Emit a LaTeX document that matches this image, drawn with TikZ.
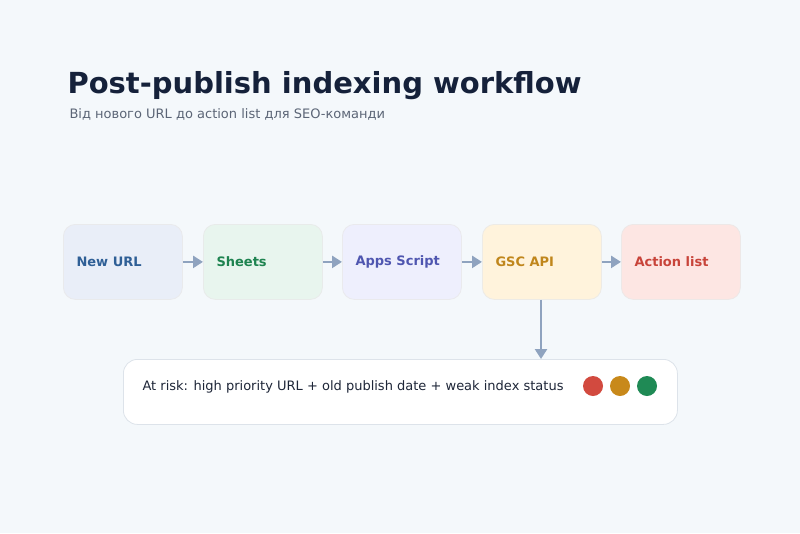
\documentclass[tikz,border=0pt]{standalone}
\usepackage{fontspec}
\setmainfont{DejaVu Sans}
\usetikzlibrary{arrows.meta}
\definecolor{bg}{HTML}{F4F8FB}
\definecolor{arr}{HTML}{8FA3BF}
\begin{document}
\begin{tikzpicture}[x=1pt,y=-1pt,
  step/.style={draw=#1!60!gray!35, rounded corners=12pt, line width=0.8pt, minimum width=119pt, minimum height=75pt, anchor=north west},
  lbl/.style={font=\bfseries\fontsize{13}{15}\selectfont, anchor=west},
  conn/.style={draw=arr, line width=2.5pt, -{Triangle[length=10pt,width=12pt]}}]
\fill[bg] (0,0) rectangle (800,533);
\useasboundingbox (0,0) rectangle (800,533);
\node[anchor=base west, text=black!20!blue!30!black, font=\bfseries\fontsize{29}{34}\selectfont, text={rgb,255:red,21;green,33;blue,58}] (title) at (64,93) {Post-publish indexing workflow};
\node[anchor=base west, font=\fontsize{13}{15}\selectfont, text={rgb,255:red,91;green,101;blue,118}] (sub) at (66,118) {Від нового URL до action list для SEO-команди};
\definecolor{f1}{HTML}{E9EEF8}\definecolor{t1}{HTML}{2F5F96}
\definecolor{f2}{HTML}{E8F5EE}\definecolor{t2}{HTML}{1E8350}
\definecolor{f3}{HTML}{EEEFFD}\definecolor{t3}{HTML}{4F56B0}
\definecolor{f4}{HTML}{FFF3DC}\definecolor{t4}{HTML}{C0861C}
\definecolor{f5}{HTML}{FDE6E3}\definecolor{t5}{HTML}{C8443A}
\node[step=f1, fill=f1] (b1) at (63,224) {};
\node[step=f2, fill=f2] (b2) at (203,224) {};
\node[step=f3, fill=f3] (b3) at (342,224) {};
\node[step=f4, fill=f4] (b4) at (482,224) {};
\node[step=f5, fill=f5] (b5) at (621,224) {};
\node[lbl, text=t1] (l1) at ([xshift=10pt]b1.west) {New URL};
\node[lbl, text=t2] (l2) at ([xshift=10pt]b2.west) {Sheets};
\node[lbl, text=t3] (l3) at ([xshift=10pt]b3.west) {Apps Script};
\node[lbl, text=t4] (l4) at ([xshift=10pt]b4.west) {GSC API};
\node[lbl, text=t5] (l5) at ([xshift=10pt]b5.west) {Action list};
\draw[conn] (b1.east) -- (b2.west);
\draw[conn] (b2.east) -- (b3.west);
\draw[conn] (b3.east) -- (b4.west);
\draw[conn] (b4.east) -- (b5.west);
\node[draw={rgb,255:red,221;green,227;blue,234}, fill=white, rounded corners=14pt, line width=0.8pt, minimum width=554pt, minimum height=65pt, anchor=north west] (risk) at (123,359) {};
\draw[conn] (b4.south -| 541,0) -- (risk.north -| 541,0);
\node[anchor=west, font=\fontsize{13}{15}\selectfont, text={rgb,255:red,30;green,38;blue,56}] (rt) at (139,387) {At risk: high priority URL + old publish date + weak index status};
\fill[fill={rgb,255:red,210;green,74;blue,63}] (593,386) circle (10);
\fill[fill={rgb,255:red,200;green,137;blue,26}] (620,386) circle (10);
\fill[fill={rgb,255:red,31;green,138;blue,85}] (647,386) circle (10);
\end{tikzpicture}
\end{document}
